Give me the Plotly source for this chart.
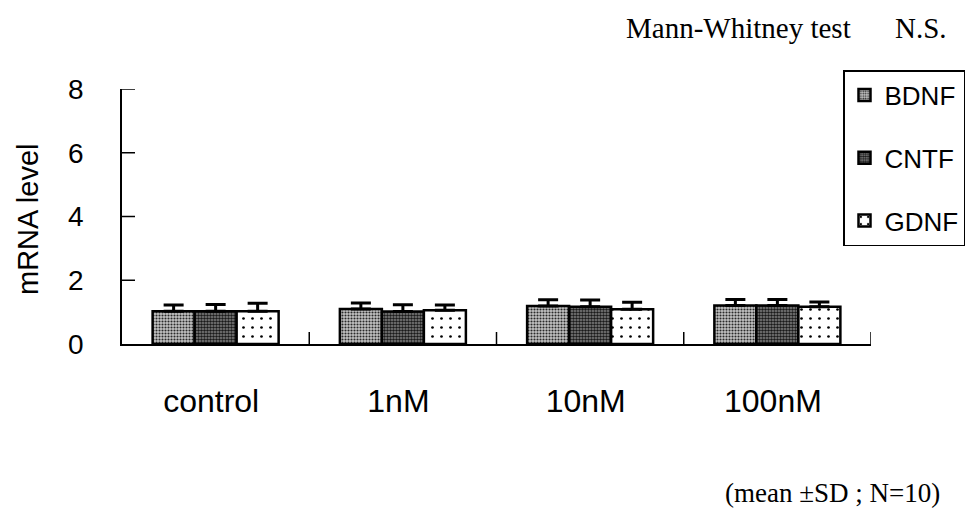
import plotly.graph_objects as go

# Treatment groups and measured neurotrophic factor mRNA levels (mean, SD)
categories = ["control", "1nM", "10nM", "100nM"]
series_names = ["BDNF", "CNTF", "GDNF"]

bdnf_mean = [1.03, 1.10, 1.19, 1.21]
bdnf_sd = [0.19, 0.19, 0.20, 0.19]
cntf_mean = [1.03, 1.02, 1.17, 1.21]
cntf_sd = [0.21, 0.21, 0.21, 0.19]
gdnf_mean = [1.03, 1.06, 1.09, 1.17]
gdnf_sd = [0.25, 0.16, 0.22, 0.15]

y_ticks = [0, 2, 4, 6, 8]

means = [bdnf_mean, cntf_mean, gdnf_mean]
sds = [bdnf_sd, cntf_sd, gdnf_sd]

# texture for each factor
patterns = [
    dict(shape=".", bgcolor="#c4c4c4", fgcolor="#2a2a2a", size=3, solidity=0.4, fillmode="replace"),
    dict(shape=".", bgcolor="#858585", fgcolor="#1a1a1a", size=3, solidity=0.55, fillmode="replace"),
    dict(shape=".", bgcolor="#ffffff", fgcolor="#000000", size=9, solidity=0.07, fillmode="replace"),
]

fig = go.Figure()
for name, m, s, pat in zip(series_names, means, sds, patterns):
    fig.add_trace(go.Bar(
        name=name,
        x=categories,
        y=m,
        legendgroup=name,
        marker=dict(color=pat["bgcolor"], pattern=pat,
                    line=dict(color="black", width=2.5)),
        error_y=dict(type="data", symmetric=False, array=s,
                     arrayminus=[0] * len(s),
                     color="black", thickness=3, width=10),
    ))

W, H = 980, 511
L, R, T, B = 122, 109, 89, 167
pw, ph = W - L - R, H - T - B


def px_x(x):
    return (x - L) / pw


def px_y(y):
    return (H - B - y) / ph


serif = "Liberation Serif, Times New Roman, serif"

# tick marks pointing into the plot: y ticks at their values, x ticks at the
# boundaries between treatment groups
tick_shapes = []
for v in y_ticks[1:]:
    tick_shapes.append(dict(type="line", xref="paper", yref="y",
                            x0=0, x1=13 / pw, y0=v, y1=v,
                            line=dict(color="black", width=1.5)))
for i in range(1, len(categories) + 1):
    tick_shapes.append(dict(type="line", xref="x", yref="paper",
                            x0=i - 0.5, x1=i - 0.5, y0=0, y1=12 / ph,
                            line=dict(color="black", width=1.5)))

fig.update_layout(
    width=W, height=H,
    margin=dict(l=L, r=R, t=T, b=B, autoexpand=False),
    paper_bgcolor="white", plot_bgcolor="white",
    barmode="group", bargap=0.327, bargroupgap=0,
    font=dict(family="Arial, Liberation Sans, sans-serif", color="black"),
    showlegend=True,
    legend=dict(
        x=px_x(843), y=px_y(70), xanchor="left", yanchor="top",
        bordercolor="black", borderwidth=1.5, bgcolor="white",
        font=dict(size=26, color="black"),
        tracegroupgap=26, entrywidth=150,
        itemclick=False,
    ),
    xaxis=dict(
        type="category", range=[-0.5, 3.5],
        showline=True, linecolor="black", linewidth=1.5,
        ticks="",
        tickfont=dict(size=32), ticklabelstandoff=28, ticksuffix=" ",
        showgrid=False, zeroline=False,
    ),
    yaxis=dict(
        range=[0, 8], tickmode="array", tickvals=y_ticks,
        showline=True, linecolor="black", linewidth=1.5,
        ticks="",
        tickfont=dict(size=28), ticklabelstandoff=31,
        showgrid=False, zeroline=False,
    ),
    shapes=tick_shapes,
    annotations=[
        dict(text="mRNA level", xref="paper", yref="paper",
             x=px_x(28), y=px_y(219), xanchor="center", yanchor="middle",
             textangle=-90, showarrow=False, font=dict(size=29)),
        dict(text="Mann-Whitney test", xref="paper", yref="paper",
             x=px_x(624), y=px_y(28), xanchor="left", yanchor="middle",
             showarrow=False, font=dict(family=serif, size=29)),
        dict(text="N.S.", xref="paper", yref="paper",
             x=px_x(893), y=px_y(28), xanchor="left", yanchor="middle",
             showarrow=False, font=dict(family=serif, size=29)),
        dict(text="(mean ±SD ; N=10)", xref="paper", yref="paper",
             x=px_x(942), y=px_y(493), xanchor="right", yanchor="middle",
             showarrow=False, font=dict(family=serif, size=27)),
    ],
)

fig.write_html("out.html")
